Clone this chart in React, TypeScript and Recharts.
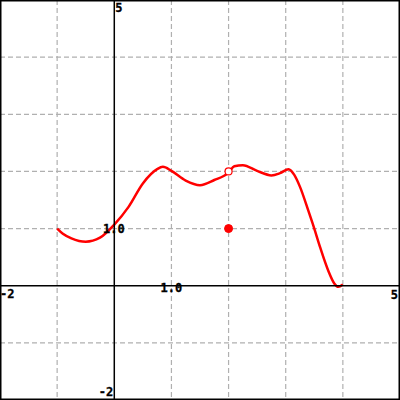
import React from "react";
import { ComposedChart, Area, XAxis, YAxis, ReferenceLine, ReferenceDot, CartesianGrid } from "recharts";

const curveX = [-1, -0.9, -0.75, -0.5, -0.25, 0, 0.25, 0.5, 0.75, 0.85, 1.0, 1.25, 1.5, 1.75, 2.0, 2.1, 2.25, 2.5, 2.75, 2.9, 3.05, 3.15, 3.25, 3.4, 3.5, 3.6, 3.75, 3.85, 3.92, 4.0];
const curveY = [1.0, 0.91, 0.83, 0.77, 0.84, 1.07, 1.38, 1.79, 2.04, 2.08, 2.01, 1.84, 1.76, 1.85, 1.98, 2.09, 2.11, 2.01, 1.93, 1.97, 2.04, 1.94, 1.73, 1.3, 1.0, 0.68, 0.25, 0.04, -0.02, 0.02];

const holePoint = { x: 2, y: 2 };
const filledPoint = { x: 2, y: 1 };

const xDomain = [-2, 5];
const yDomain = [-2, 5];
const gridX = [-1, 1, 2, 3, 4];
const gridY = [4, 3, 2, 1, -1];
const borderX = [-2, 5];
const borderY = [-2, 5];

const tickLabels = [
  { x: 0, y: 5, text: "5", anchor: "start", dx: 1, dy: 12 },
  { x: 0, y: -2, text: "-2", anchor: "end", dx: -1, dy: -4 },
  { x: -2, y: 0, text: "-2", anchor: "start", dx: 0, dy: 12 },
  { x: 5, y: 0, text: "5", anchor: "end", dx: -2, dy: 13 },
  { x: 1, y: 0, text: "1.0", anchor: "middle", dx: 0, dy: 6.5 },
  { x: 0, y: 1, text: "1.0", anchor: "middle", dx: -0.5, dy: 4 },
];

const data = curveX.map((x, i) => ({ x, y: curveY[i] }));

const fontStyle = {
  fontFamily: "'DejaVu Sans Mono', monospace",
  fontWeight: "bold" as const,
  fontSize: 12,
  letterSpacing: 0,
};

export default function App() {
  return (
    <div style={{ position: "absolute", left: 0, top: 0, width: 400, height: 400, background: "#fff" }}>
      <ComposedChart width={400} height={400} data={data} margin={{ top: 0, right: 0, bottom: 0, left: 0 }}>
        <XAxis type="number" dataKey="x" domain={xDomain} ticks={gridX} hide allowDataOverflow />
        <YAxis type="number" domain={yDomain} ticks={gridY} hide allowDataOverflow />
        <CartesianGrid stroke="#b0b0b0" strokeWidth={1.2} strokeDasharray="5 3" />
        <ReferenceLine x={0} stroke="#000" strokeWidth={1.5} />
        <ReferenceLine y={0} stroke="#000" strokeWidth={1.5} />
        {borderX.map((v) => (
          <ReferenceLine key={"bx" + v} x={v} stroke="#000" strokeWidth={3} />
        ))}
        {borderY.map((v) => (
          <ReferenceLine key={"by" + v} y={v} stroke="#000" strokeWidth={3} />
        ))}
        <Area
          type="monotone"
          dataKey="y"
          stroke="#ff0000"
          strokeWidth={2.5}
          fill="none"
          fillOpacity={0}
          dot={false}
          activeDot={false}
          isAnimationActive={false}
        />
        <ReferenceDot x={filledPoint.x} y={filledPoint.y} r={4} fill="#ff0000" stroke="#ff0000" strokeWidth={1} />
        <ReferenceDot x={holePoint.x} y={holePoint.y} r={3.5} fill="#ffffff" stroke="#ff0000" strokeWidth={1.2} />
        {tickLabels.map((t, i) => (
          <ReferenceDot
            key={"lbl" + i}
            x={t.x}
            y={t.y}
            r={0}
            fill="none"
            stroke="none"
            ifOverflow="visible"
            label={(props: any) => {
              const vb = props.viewBox || {};
              const cx = (vb.x ?? 0) + (vb.width ?? 0) / 2;
              const cy = (vb.y ?? 0) + (vb.height ?? 0) / 2;
              return (
                <text x={cx + t.dx} y={cy + t.dy} textAnchor={t.anchor as any} fill="#000" stroke="#000" strokeWidth={0.3} style={fontStyle}>
                  {t.text}
                </text>
              );
            }}
          />
        ))}
      </ComposedChart>
    </div>
  );
}
